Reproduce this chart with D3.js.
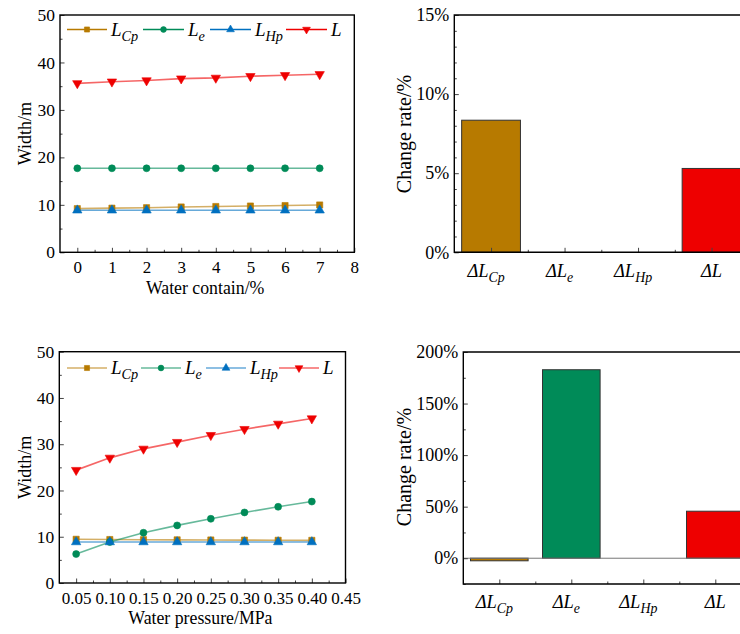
<!DOCTYPE html>
<html><head>
<script src="https://cdn.jsdelivr.net/npm/d3@7"></script>
</head>
<body style="margin:0;background:#fff"><svg id="c" width="740" height="634" style="display:block"></svg>
<script>
// ---------- data ----------
const waterContent = [0, 1, 2, 3, 4, 5, 6, 7];
const wcLCp = [9.2, 9.3, 9.4, 9.55, 9.65, 9.75, 9.85, 9.97];
const wcLe  = [17.7, 17.7, 17.7, 17.7, 17.7, 17.7, 17.7, 17.7];
const wcLHp = [8.85, 8.85, 8.85, 8.85, 8.85, 8.85, 8.85, 8.85];
const wcL   = [35.6, 35.95, 36.2, 36.6, 36.75, 37.1, 37.3, 37.5];

const waterPressure = [0.05, 0.10, 0.15, 0.20, 0.25, 0.30, 0.35, 0.40];
const prLCp = [9.45, 9.4, 9.36, 9.33, 9.3, 9.27, 9.24, 9.22];
const prLe  = [6.26, 8.85, 10.86, 12.45, 13.88, 15.25, 16.47, 17.6];
const prLHp = [8.85, 8.85, 8.85, 8.85, 8.85, 8.85, 8.85, 8.85];
const prL   = [24.4, 27.05, 29.0, 30.45, 31.95, 33.25, 34.4, 35.55];

const rateCats = ["Cp", "e", "Hp", ""];
const wcRates = [8.35, 0, 0, 5.3];
const prRates = [-2.5, 182.8, 0, 45.6];

const seriesNames = ["Cp", "e", "Hp", ""];
const colors = ["#B77A00", "#008B58", "#0070C0", "#EE0000"];
const markers = [d3.symbolSquare, d3.symbolCircle, d3.symbolTriangle, "down"];

const wcXTicks = [0,1,2,3,4,5,6,7,8];
const prXTicks = [0.05,0.10,0.15,0.20,0.25,0.30,0.35,0.40,0.45];
const widthTicks = [0,10,20,30,40,50];

const svg = d3.select("#c");

function marker(g, type, color, x, y, size) {
  const p = g.append("path").attr("fill", color).attr("stroke", color).attr("stroke-width", 0.6);
  if (type === "down") {
    p.attr("d", d3.symbol(d3.symbolTriangle, size)()).attr("transform", `translate(${x},${y}) rotate(180)`);
  } else {
    p.attr("d", d3.symbol(type, size)()).attr("transform", `translate(${x},${y})`);
  }
}

function subLabel(g, x, y, sub, size, anchor, prefix) {
  const t = g.append("text").attr("x", x).attr("y", y)
    .attr("font-size", size).attr("font-style", "italic").attr("text-anchor", anchor || "start");
  t.append("tspan").text((prefix || "") + "L");
  if (sub) t.append("tspan").attr("font-size", size * 0.75).attr("dy", size * 0.28).text(sub);
  return t;
}

function styleAxis(g) {
  g.select(".domain").remove();
  g.selectAll(".tick line").attr("stroke", "#444").attr("stroke-width", 1);
}

function lineChart(cfg) {
  const g = svg.append("g");
  const x = d3.scaleLinear().domain(cfg.xDomain).range(cfg.xRange);
  const y = d3.scaleLinear().domain([0, 50]).range(cfg.yRange);
  g.append("g").attr("transform", `translate(0,${cfg.yRange[0]})`)
    .call(d3.axisBottom(x).tickValues(cfg.xMinor).tickSizeInner(-2.5).tickSizeOuter(0).tickFormat(""))
    .call(styleAxis);
  g.append("g").attr("transform", `translate(${cfg.xRange[0]},0)`)
    .call(d3.axisLeft(y).tickValues([5,15,25,35,45]).tickSizeInner(-2.5).tickSizeOuter(0).tickFormat(""))
    .call(styleAxis);
  const xa = g.append("g").attr("transform", `translate(0,${cfg.yRange[0]})`)
    .call(d3.axisBottom(x).tickValues(cfg.xTicks).tickSizeInner(-4.5).tickSizeOuter(0).tickPadding(9).tickFormat(cfg.xFmt))
    .call(styleAxis);
  xa.selectAll("text").attr("font-size", 17).attr("fill", "#000");
  const ya = g.append("g").attr("transform", `translate(${cfg.xRange[0]},0)`)
    .call(d3.axisLeft(y).tickValues(widthTicks).tickSizeInner(-4.5).tickSizeOuter(0).tickPadding(5))
    .call(styleAxis);
  ya.selectAll("text").attr("font-size", 17.5).attr("fill", "#000");
  g.append("rect").attr("x", cfg.xRange[0]).attr("y", cfg.yRange[1])
    .attr("width", cfg.xRange[1] - cfg.xRange[0]).attr("height", cfg.yRange[0] - cfg.yRange[1])
    .attr("fill", "none").attr("stroke", "#000").attr("stroke-width", 1.4);
  const line = d3.line().x((d, i) => x(cfg.xs[i])).y(d => y(d));
  cfg.series.forEach((s, k) => {
    g.append("path").datum(s).attr("d", line).attr("fill", "none")
      .attr("stroke", colors[k]).attr("stroke-width", 1.6).attr("stroke-opacity", 0.6);
  });
  cfg.series.forEach((s, k) => {
    s.forEach((v, i) => marker(g, markers[k], colors[k], x(cfg.xs[i]), y(v), 38));
  });
  cfg.legend.forEach((L, k) => {
    g.append("line").attr("x1", L[0]).attr("x2", L[1]).attr("y1", cfg.legY).attr("y2", cfg.legY)
      .attr("stroke", colors[k]).attr("stroke-width", 1.6).attr("stroke-opacity", cfg.legOpacity);
    marker(g, markers[k], colors[k], (L[0] + L[1]) / 2, cfg.legY, 26);
    subLabel(g, L[1] + 4, cfg.legY + 6, seriesNames[k], 19);
  });
  g.append("text").attr("x", (cfg.xRange[0] + cfg.xRange[1]) / 2 - 2).attr("y", cfg.xTitleY)
    .attr("text-anchor", "middle").attr("font-size", 17.8).text(cfg.xTitle);
  g.append("text").attr("transform", `translate(31,${(cfg.yRange[0] + cfg.yRange[1]) / 2}) rotate(-90)`)
    .attr("text-anchor", "middle").attr("font-size", 18).text("Width/m");
}

lineChart({
  xDomain: [-0.5, 8], xRange: [60, 354.3], yRange: [252.3, 15],
  xTicks: wcXTicks, xMinor: [0.5,1.5,2.5,3.5,4.5,5.5,6.5,7.5], xFmt: d3.format("d"),
  xs: waterContent, series: [wcLCp, wcLe, wcLHp, wcL],
  legend: [[67, 107], [143, 184], [210, 251], [286, 327]], legY: 29.5, legOpacity: 1,
  xTitle: "Water contain/%", xTitleY: 294
});
lineChart({
  xDomain: [0.025, 0.45], xRange: [59.3, 345.5], yRange: [583, 351.7],
  xTicks: prXTicks, xMinor: [0.075,0.125,0.175,0.225,0.275,0.325,0.375,0.425], xFmt: d3.format(".2f"),
  xs: waterPressure, series: [prLCp, prLe, prLHp, prL],
  legend: [[67, 107], [141, 181], [206, 246], [279, 319]], legY: 368, legOpacity: 0.6,
  xTitle: "Water pressure/MPa", xTitleY: 624
});

function barChart(cfg) {
  const g = svg.append("g");
  const x = d3.scaleLinear().domain([-0.5, 3.5]).range(cfg.xRange);
  const y = d3.scaleLinear().domain(cfg.yDomain).range(cfg.yRange);
  const y0 = cfg.yRange[0];
  cfg.values.forEach((v, i) => {
    if (v === 0) return;
    g.append("rect").attr("x", x(i - 0.4)).attr("width", x(i + 0.4) - x(i - 0.4))
      .attr("y", y(Math.max(v, 0))).attr("height", Math.abs(y(v) - y(0)))
      .attr("fill", colors[i]).attr("stroke", "#333").attr("stroke-width", 1);
  });
  if (cfg.yDomain[0] < 0) {
    g.append("line").attr("x1", cfg.xRange[0]).attr("x2", 740).attr("y1", y(0)).attr("y2", y(0))
      .attr("stroke", "#777").attr("stroke-width", 1);
  }
  g.append("g").attr("transform", `translate(0,${y0})`)
    .call(d3.axisBottom(x).tickValues([0.5, 1.5, 2.5]).tickSizeInner(-2.5).tickSizeOuter(0).tickFormat(""))
    .call(styleAxis);
  g.append("g").attr("transform", `translate(${cfg.xRange[0]},0)`)
    .call(d3.axisLeft(y).tickValues(cfg.yMinor).tickSizeInner(-2.5).tickSizeOuter(0).tickFormat(""))
    .call(styleAxis);
  g.append("g").attr("transform", `translate(0,${y0})`)
    .call(d3.axisBottom(x).tickValues([0, 1, 2, 3]).tickSizeInner(-4.5).tickSizeOuter(0).tickFormat(""))
    .call(styleAxis);
  const ya = g.append("g").attr("transform", `translate(${cfg.xRange[0]},0)`)
    .call(d3.axisLeft(y).tickValues(cfg.yTicks).tickSizeInner(-4.5).tickSizeOuter(0).tickPadding(5).tickFormat(d => d + "%"))
    .call(styleAxis);
  ya.selectAll("text").attr("font-size", 18).attr("fill", "#000");
  g.append("path").attr("d", `M740,${cfg.yRange[1]}H${cfg.xRange[0]}V${y0}H740`)
    .attr("fill", "none").attr("stroke", "#000").attr("stroke-width", 1.4);
  rateCats.forEach((c, i) => {
    subLabel(g, x(i) - (c ? 5 : 0), cfg.labelY, c, 18.5, "middle", "\u0394");
  });
  g.append("text").attr("transform", `translate(411,${cfg.titleY}) rotate(-90)`)
    .attr("text-anchor", "middle").attr("font-size", 20).text("Change rate/%");
}

barChart({
  xRange: [454.3, 748.3], yDomain: [0, 15], yRange: [252.3, 15],
  yTicks: [0, 5, 10, 15], yMinor: [1,2,3,4,6,7,8,9,11,12,13,14],
  values: wcRates, labelY: 277, titleY: 134
});
barChart({
  xRange: [463.3, 751.3], yDomain: [-25, 200], yRange: [584, 352],
  yTicks: [0, 50, 100, 150, 200], yMinor: [-25, 25, 75, 125, 175],
  values: prRates, labelY: 608, titleY: 467
});

svg.selectAll("g").filter(function () { return this.hasAttribute("font-family"); }).attr("font-family", null);
svg.selectAll("text").attr("font-family", "Liberation Serif");
</script></body></html>
